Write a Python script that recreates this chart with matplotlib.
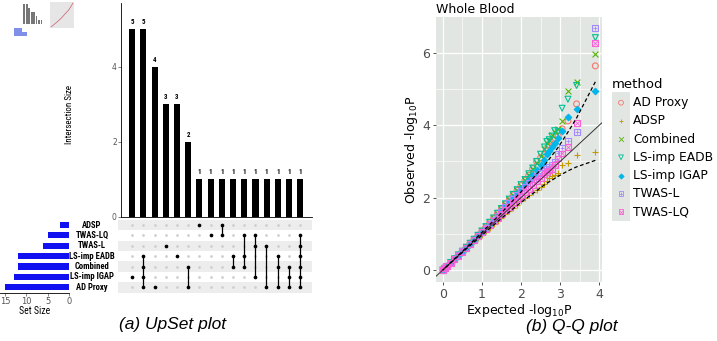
import matplotlib
matplotlib.use("Agg")
from matplotlib import pyplot as plt
from matplotlib import font_manager

# ---- UpSet data ----
sets = ['AD Proxy', 'LS-imp IGAP', 'Combined', 'LS-imp EADB', 'TWAS-L', 'TWAS-LQ', 'ADSP']  # bottom -> top
set_sizes = [15, 13, 12, 12, 6, 5, 2]
inter_sizes = [5, 5, 4, 3, 3, 2, 1, 1, 1, 1, 1, 1, 1, 1, 1, 1]
inter_members = [
    ['LS-imp IGAP'],
    ['LS-imp EADB', 'Combined', 'LS-imp IGAP', 'AD Proxy'],
    ['AD Proxy'],
    ['TWAS-L'],
    ['LS-imp EADB'],
    ['Combined', 'AD Proxy'],
    ['ADSP'],
    ['TWAS-LQ'],
    ['ADSP', 'TWAS-LQ'],
    ['LS-imp EADB', 'Combined'],
    ['TWAS-LQ', 'LS-imp EADB', 'Combined'],
    ['TWAS-LQ', 'TWAS-L', 'LS-imp IGAP'],
    ['TWAS-L', 'AD Proxy'],
    ['LS-imp EADB', 'Combined', 'AD Proxy'],
    ['Combined', 'LS-imp IGAP', 'AD Proxy'],
    ['TWAS-LQ', 'TWAS-L', 'LS-imp EADB', 'Combined', 'LS-imp IGAP', 'AD Proxy'],
]

# ---- Q-Q data (expected / observed -log10 P) ----
expected = [3.9, 3.42, 3.2, 3.05, 2.95, 2.86, 2.79, 2.72, 2.66,
            2.6, 2.5, 2.4, 2.3, 2.2, 2.1, 2.0, 1.9, 1.8, 1.7, 1.6, 1.5, 1.4, 1.3,
            1.2, 1.1, 1.0, 0.9, 0.8, 0.7, 0.6, 0.5, 0.4, 0.3, 0.2, 0.1, 0.05, 0.0]
methods = ['AD Proxy', 'ADSP', 'Combined', 'LS-imp EADB', 'LS-imp IGAP', 'TWAS-L', 'TWAS-LQ']
observed = {
    'AD Proxy': [5.64, 4.59, 4.12, 3.90, 3.70, 3.60, 3.52, 3.42, 3.32,
                 3.2, 3.1, 3.0, 2.8, 2.62, 2.48, 2.33, 2.2, 2.07, 1.94, 1.81, 1.68, 1.56, 1.43,
                 1.31, 1.19, 1.07, 0.96, 0.85, 0.74, 0.63, 0.52, 0.41, 0.31, 0.2, 0.1, 0.05, 0.0],
    'ADSP': [3.25, 3.18, 2.96, 2.90, 2.67, 2.62, 2.6, 2.55, 2.45,
             2.38, 2.3, 2.22, 2.15, 2.07, 1.98, 1.9, 1.81, 1.72, 1.63, 1.54, 1.45, 1.36, 1.26,
             1.17, 1.07, 0.98, 0.88, 0.79, 0.69, 0.59, 0.49, 0.39, 0.29, 0.19, 0.1, 0.05, 0.0],
    'Combined': [5.96, 5.2, 4.95, 4.12, 3.91, 3.8, 3.72, 3.6, 3.5,
                 3.35, 3.15, 2.95, 2.78, 2.62, 2.48, 2.33, 2.2, 2.08, 1.95, 1.82, 1.68, 1.56, 1.43,
                 1.31, 1.19, 1.07, 0.96, 0.85, 0.74, 0.63, 0.52, 0.41, 0.31, 0.2, 0.1, 0.05, 0.0],
    'LS-imp EADB': [6.42, 5.1, 4.72, 4.47, 3.82, 3.85, 3.7, 3.6, 3.55,
                    3.4, 3.2, 3.0, 2.82, 2.66, 2.5, 2.36, 2.22, 2.09, 1.96, 1.83, 1.7, 1.57, 1.44,
                    1.32, 1.2, 1.08, 0.96, 0.85, 0.74, 0.63, 0.52, 0.42, 0.31, 0.21, 0.1, 0.05, 0.0],
    'LS-imp IGAP': [4.95, 4.45, 4.22, 3.85, 3.64, 3.5, 3.4, 3.3, 3.2,
                    3.05, 2.9, 2.75, 2.62, 2.48, 2.36, 2.23, 2.1, 1.98, 1.86, 1.74, 1.62, 1.5, 1.38,
                    1.27, 1.15, 1.04, 0.93, 0.82, 0.72, 0.61, 0.51, 0.4, 0.3, 0.2, 0.1, 0.05, 0.0],
    'TWAS-L': [6.69, 3.82, 3.57, 3.36, 3.22, 3.0, 2.9, 2.85, 2.8,
               2.75, 2.68, 2.6, 2.5, 2.4, 2.29, 2.18, 2.07, 1.96, 1.84, 1.73, 1.61, 1.49, 1.38,
               1.27, 1.16, 1.05, 0.94, 0.83, 0.73, 0.62, 0.52, 0.41, 0.31, 0.21, 0.11, 0.06, 0.01],
    'TWAS-LQ': [6.26, 4.07, 3.41, 3.22, 3.08, 2.9, 2.8, 2.75, 2.7,
                2.65, 2.55, 2.45, 2.35, 2.25, 2.15, 2.05, 1.95, 1.85, 1.75, 1.65, 1.55, 1.45, 1.35,
                1.25, 1.14, 1.04, 0.93, 0.82, 0.72, 0.61, 0.51, 0.4, 0.3, 0.2, 0.1, 0.05, 0.0],
}
ci_x = [3.9, 3.42, 3.2, 2.95, 2.62, 2.0, 1.5, 1.0, 0.5, 0.0]
ci_upper = [5.2, 4.2, 3.81, 3.39, 2.92, 2.16, 1.58, 1.04, 0.515, 0.0]
ci_lower = [3.03, 2.85, 2.74, 2.59, 2.37, 1.87, 1.43, 0.96, 0.487, 0.0]

colors = ['#F8766D', '#C49A00', '#53B400', '#00C094', '#00B6EB', '#A58AFF', '#FB61D7']
markers = ['o', '+', 'x', 'v', 'D', 's', 's']
filled = [False, True, True, False, True, False, False]

W, H = 717, 341
fig = plt.figure(figsize=(W / 100, H / 100), dpi=100)


def px_axes(x0, y0, x1, y1):
    """axes from pixel box (top-left origin)"""
    return fig.add_axes([x0 / W, 1 - y1 / H, (x1 - x0) / W, (y1 - y0) / H])


# узкий шрифт для UpSet, если есть
available = {f.name for f in font_manager.fontManager.ttflist}
narrow = next((n for n in ['Liberation Sans Narrow', 'DejaVu Sans Condensed', 'Roboto Condensed']
               if n in available), 'Liberation Sans')
upset_font = [narrow, 'Liberation Sans', 'DejaVu Sans']

# ---- intersection bars ----
axb = px_axes(121, 3, 312, 217)
xs = list(range(len(inter_sizes)))
axb.bar(xs, inter_sizes, width=0.55, color='black')
for x, v in zip(xs, inter_sizes):
    axb.text(x, v + 0.08, str(v), ha='center', va='bottom', fontsize=5,
             fontweight='bold', family=upset_font)
axb.set_xlim(-1.0, 16.05)
axb.set_ylim(0, 5.7)
axb.set_xticks([])
axb.set_yticks([0, 2, 4])
axb.tick_params(axis='y', labelsize=5.5, length=2, width=0.5, colors='#555555', pad=1)
for s in ['top', 'right']:
    axb.spines[s].set_visible(False)
axb.spines['left'].set_linewidth(0.6)
axb.spines['bottom'].set_linewidth(0.6)
fig.text(70 / W, 1 - 115 / H, 'Intersection Size', rotation=90, ha='center', va='center',
         fontsize=6.5, family=upset_font)

# ---- matrix ----
axm = px_axes(118, 219.8, 312, 292.5)
axm.set_xlim(-1.28, 16.07)
axm.set_ylim(-0.5, len(sets) - 0.5)
for i in range(len(sets)):
    if i % 2 == 0:
        axm.axhspan(i - 0.5, i + 0.5, color='#EDEDED', lw=0, zorder=0)
for x, members in zip(xs, inter_members):
    rows = [sets.index(m) for m in members]
    axm.scatter([x] * len(sets), range(len(sets)), s=4, color='#CFCFCF', lw=0, zorder=1)
    axm.scatter([x] * len(rows), rows, s=7, color='black', lw=0, zorder=3)
    if len(rows) > 1:
        axm.plot([x, x], [min(rows), max(rows)], color='black', lw=0.9, zorder=2)
axm.axis('off')
for i, name in enumerate(sets):
    fig.text(92 / W, 1 - (287.3 - i * 10.38) / H, name, ha='center', va='center',
             fontsize=6.2, fontweight='bold', family=upset_font)

# ---- set size bars ----
axs = px_axes(0, 219.8, 69, 292.5)
axs.barh(range(len(sets)), set_sizes, height=0.6, color='#1010F0')
axs.set_xlim(16.2, 0)
axs.set_ylim(-0.5, len(sets) - 0.5)
axs.set_yticks([])
axs.set_xticks([15, 10, 5, 0])
axs.tick_params(axis='x', labelsize=6, length=2, width=0.5, colors='#555555', pad=1)
for s in ['top', 'right', 'left']:
    axs.spines[s].set_visible(False)
axs.spines['bottom'].set_linewidth(0.6)
axs.set_xlabel('Set Size', fontsize=7, family=upset_font, labelpad=0.5)

# ---- tiny thumbnail in the corner ----
axt = px_axes(12, 0, 44, 36)
axt.bar(xs[:8], inter_sizes[:8], width=0.7, color='#777777')
axt.barh([-1.5, -2.5], [3, 5], left=-4, height=0.8, color='#8090E8')
axt.set_xlim(-5, 8)
axt.set_ylim(-3, 6)
axt.axis('off')
axt2 = px_axes(50, 2, 74, 28)
axt2.set_facecolor('#E6E6E6')
axt2.plot(expected, observed['AD Proxy'], color='#D07080', lw=0.6)
axt2.set_xticks([])
axt2.set_yticks([])
for s in axt2.spines.values():
    s.set_visible(False)

# ---- Q-Q plot ----
bg = '#E2E6E2'
ax = px_axes(435.7, 17, 602, 282)
ax.set_facecolor(bg)
ax.set_xlim(-0.18, 4.07)
ax.set_ylim(-0.33, 6.99)
ax.set_xticks([0, 1, 2, 3, 4])
ax.set_yticks([0, 2, 4, 6])
ax.set_xticks([0.5, 1.5, 2.5, 3.5], minor=True)
ax.set_yticks([1, 3, 5], minor=True)
ax.grid(which='major', color='white', lw=0.9)
ax.grid(which='minor', color='white', lw=0.45)
ax.set_axisbelow(True)
for s in ax.spines.values():
    s.set_visible(False)
ax.tick_params(which='major', labelsize=9, length=2.5, width=0.6, color='#333333',
               labelcolor='#4D4D4D', pad=1.5)
ax.tick_params(which='minor', length=0)

for m, c, mk, f in zip(methods, colors, markers, filled):
    obs = observed[m]
    if f:
        ax.scatter(expected, obs, s=18 if mk != 'D' else 11, marker=mk, color=c, lw=0.8, zorder=3)
    else:
        ax.scatter(expected, obs, s=18, marker=mk, facecolors='none', edgecolors=c, lw=0.8, zorder=3)
        if m == 'TWAS-L':
            ax.scatter(expected, obs, s=10, marker='+', color=c, lw=0.6, zorder=3)
        if m == 'TWAS-LQ':
            ax.scatter(expected, obs, s=10, marker='x', color=c, lw=0.6, zorder=3)

ax.axline((0, 0), (1, 1), color='#333333', lw=0.7, zorder=4)
ax.plot(ci_x, ci_upper, color='black', lw=0.9, ls=(0, (3, 2)), zorder=4)
ax.plot(ci_x, ci_lower, color='black', lw=0.9, ls=(0, (3, 2)), zorder=4)

ax.set_title('Whole Blood', loc='left', fontsize=9, pad=3)
ax.set_xlabel(r'Expected -log$_{10}$P', fontsize=9, labelpad=1)
ax.set_ylabel(r'Observed -log$_{10}$P', fontsize=9, labelpad=1.5)

# ---- legend (ggplot style) ----
axl = px_axes(612, 92, 630, 221)
axl.set_facecolor(bg)
axl.set_xlim(0, 1)
axl.set_ylim(221, 92)
axl.set_xticks([])
axl.set_yticks([])
for s in axl.spines.values():
    s.set_visible(False)
fig.text(612 / W, 1 - 84 / H, 'method', fontsize=9.5, va='center')
for k, (m, c, mk, f) in enumerate(zip(methods, colors, markers, filled)):
    yk = 102.7 + 18.2 * k
    if f:
        axl.scatter([0.5], [yk], s=12 if mk != 'D' else 7, marker=mk, color=c, lw=0.6)
    else:
        axl.scatter([0.5], [yk], s=12, marker=mk, facecolors='none', edgecolors=c, lw=0.6)
        if m == 'TWAS-L':
            axl.scatter([0.5], [yk], s=8, marker='+', color=c, lw=0.5)
        if m == 'TWAS-LQ':
            axl.scatter([0.5], [yk], s=8, marker='x', color=c, lw=0.5)
    fig.text(633 / W, 1 - yk / H, m, fontsize=8.8, va='center')

# ---- captions ----
fig.text(173 / W, 1 - 325 / H, '(a) UpSet plot', ha='center', va='center', fontsize=12.5,
         style='italic', family=['Liberation Sans', 'DejaVu Sans'])
fig.text(572 / W, 1 - 327 / H, '(b) Q-Q plot', ha='center', va='center', fontsize=12.5,
         style='italic', family=['Liberation Sans', 'DejaVu Sans'])

fig.savefig('out.png', dpi=100)
